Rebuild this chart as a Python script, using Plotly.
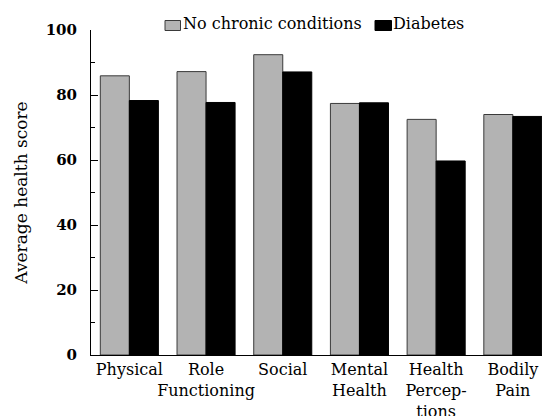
import plotly.graph_objects as go

categories = ["Physical", "Role<br>Functioning", "Social", "Mental<br>Health",
              "Health<br>Percep-<br>tions", "Bodily<br>Pain"]
no_chronic = [85.9, 87.2, 92.4, 77.4, 72.5, 74.0]
diabetes = [78.3, 77.7, 87.1, 77.6, 59.7, 73.4]
y_ticks = [0, 20, 40, 60, 80, 100]
series_names = ["No chronic conditions", "Diabetes"]
series_colors = ["#b3b3b3", "#000000"]
series_edges = ["#3a3a3a", "#000000"]

FONT = "DejaVu Serif"
W, H = 542, 416
L, R, T, B = 91, 0, 30, 61
PW, PH = W - L - R, H - T - B


def px_x(p):
    return (p - L) / PW


def px_y(p):
    return (H - B - p) / PH


fig = go.Figure()
for name, vals, col, edge in zip(series_names, [no_chronic, diabetes], series_colors, series_edges):
    fig.add_trace(go.Bar(x=categories, y=vals, name=name, showlegend=False,
                         marker=dict(color=col, line=dict(color=edge, width=1))))

# legend drawn as swatch + text (square sits right against its label)
legend_swatch_x = [(165, 180.5), (375, 391.5)]
legend_text_x = [181, 391]
for (x0, x1), tx, name, col, edge in zip(legend_swatch_x, legend_text_x, series_names,
                                         series_colors, series_edges):
    fig.add_shape(type="rect", xref="paper", yref="paper",
                  x0=px_x(x0), x1=px_x(x1), y0=px_y(30.5), y1=px_y(20.5),
                  fillcolor=col, line=dict(color=edge, width=1))
    fig.add_annotation(xref="paper", yref="paper", x=px_x(tx), y=px_y(23.5),
                       xanchor="left", yanchor="middle", showarrow=False,
                       text=name, font=dict(family=FONT, size=16, color="black"))

fig.update_layout(
    width=W, height=H, autosize=False,
    margin=dict(l=L, r=R, t=T, b=B, autoexpand=False),
    paper_bgcolor="white", plot_bgcolor="white",
    barmode="group", bargap=0.243, bargroupgap=0,
    font=dict(family=FONT, size=16, color="black"),
    showlegend=False,
)
fig.update_xaxes(
    type="category", range=[-0.5, 5.38],
    showline=True, linecolor="black", linewidth=1,
    ticks="", showgrid=False, zeroline=False, tickangle=0,
    tickfont=dict(family=FONT, size=16, color="black"),
)
fig.update_yaxes(
    range=[0, 100], tickvals=y_ticks, ticktext=[str(v) for v in y_ticks],
    showline=True, linecolor="black", linewidth=1,
    ticks="inside", ticklen=7, tickcolor="black", tickwidth=1,
    minor=dict(ticks="inside", ticklen=4, dtick=10, tick0=0, tickcolor="black", showgrid=False),
    showgrid=False, zeroline=False,
    tickfont=dict(family=FONT, size=15, color="black", weight="bold"),
    ticklabelstandoff=10,
    title=dict(text="Average health score", font=dict(family=FONT, size=17, color="black"),
               standoff=13),
)

fig.write_html(
    "out.html",
    config={"displayModeBar": False},
    post_script="document.body.style.margin='0px';document.body.style.overflow='hidden';",
)
